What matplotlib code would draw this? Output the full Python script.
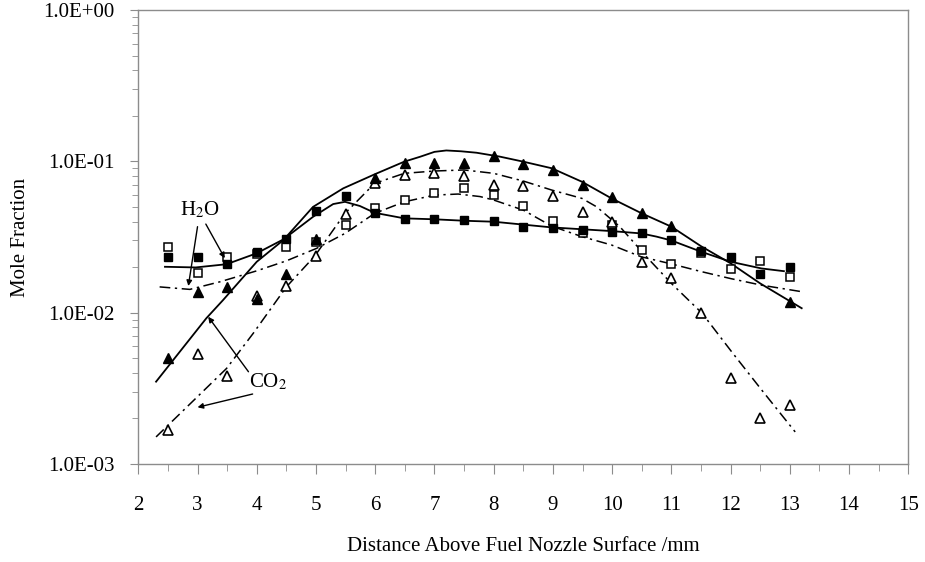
import numpy as np
import matplotlib
matplotlib.use("Agg")
import matplotlib.pyplot as plt
from matplotlib.ticker import FixedLocator, FuncFormatter, LogLocator, NullFormatter

plt.rcParams['font.family'] = ['Liberation Serif', 'DejaVu Serif']
plt.rcParams['mathtext.fontset'] = 'stix'

# measured points (mm above nozzle)
x_pts = [2.5, 3, 3.5, 4, 4.5, 5, 5.5, 6, 6.5, 7, 7.5, 8, 8.5, 9, 9.5, 10, 10.5, 11, 11.5, 12, 12.5, 13]
h2o_filled = [0.0232, 0.0232, 0.0209, 0.0250, 0.0305, 0.0469, 0.059, 0.0453, 0.0414, 0.0414, 0.0409,
              0.0403, 0.037, 0.036, 0.0352, 0.034, 0.0334, 0.0302, 0.0255, 0.0232, 0.0181, 0.020]
h2o_open = [0.027, 0.0182, 0.0234, 0.0243, 0.027, 0.0292, 0.0379, 0.0489, 0.0555, 0.0614, 0.067,
            0.060, 0.0507, 0.0403, 0.0334, 0.0379, 0.026, 0.021, 0.0249, 0.0193, 0.0219, 0.0172]
co2_open = [0.00168, 0.00532, 0.0038, 0.0129, 0.015, 0.0237, 0.0446, 0.0715, 0.081, 0.084, 0.080,
            0.0697, 0.0687, 0.059, 0.046, 0.0399, 0.0215, 0.017, 0.0100, 0.00368, 0.0020, 0.00245]

x_co2_filled = [2.5, 3, 3.5, 4, 4.5, 5, 6, 6.5, 7, 7.5, 8, 8.5, 9, 9.5, 10, 10.5, 11, 13]
co2_filled = [0.00499, 0.01375, 0.0148, 0.01225, 0.018, 0.0305, 0.0772, 0.097, 0.097, 0.097, 0.1084,
              0.0955, 0.0877, 0.0697, 0.0578, 0.0453, 0.0373, 0.0118]

# model curves
x_h2o_solid = [2.45, 2.97, 3.49, 4.0, 4.45, 4.95, 5.29, 5.49, 5.74, 5.99, 6.49, 7.0, 7.5, 8.0,
               8.98, 9.99, 10.49, 10.75, 11.0, 11.5, 12.0, 12.52, 12.9]
h2o_solid = [0.0201, 0.0199, 0.0209, 0.0247, 0.0305, 0.043, 0.0522, 0.054, 0.0507, 0.0457, 0.042,
             0.0414, 0.0405, 0.0399, 0.0366, 0.0346, 0.0334, 0.0318, 0.030, 0.0253, 0.0217, 0.0196, 0.0188]

x_co2_solid = [2.3, 3.15, 3.43, 4.0, 4.45, 4.95, 5.46, 6.0, 6.49, 6.76, 7.0, 7.2, 7.45, 7.71, 8.1,
               8.5, 8.98, 9.49, 9.99, 10.5, 11.0, 11.5, 12.0, 12.5, 13.2]
co2_solid = [0.0035, 0.0092, 0.0121, 0.0217, 0.0302, 0.050, 0.0663, 0.0824, 0.0995, 0.1073, 0.1155,
             0.118, 0.1165, 0.114, 0.1075, 0.0995, 0.090, 0.0733, 0.0569, 0.0453, 0.037, 0.0275,
             0.0212, 0.0156, 0.0107]

x_h2o_dash = [2.36, 2.87, 3.38, 4.0, 4.5, 5.01, 5.49, 5.99, 6.49, 7.0, 7.4, 7.77, 8.0, 8.5, 8.98,
              9.49, 9.99, 10.49, 11.0, 11.5, 12.0, 12.52, 13.23]
h2o_dash = [0.0148, 0.01425, 0.016, 0.0189, 0.022, 0.0266, 0.0334, 0.0453, 0.054, 0.0598, 0.0608,
            0.0585, 0.0555, 0.0476, 0.0373, 0.0318, 0.028, 0.0234, 0.021, 0.0187, 0.0168, 0.0152, 0.0137]

x_co2_dash = [2.3, 3.49, 3.94, 4.5, 4.98, 5.49, 5.99, 6.49, 7.0, 7.5, 8.0, 8.5, 8.98, 9.49, 9.74,
              10.13, 10.58, 11.0, 11.52, 12.02, 12.52, 13.09]
co2_dash = [0.00151, 0.00428, 0.0073, 0.0148, 0.0237, 0.0453, 0.0715, 0.0833, 0.0863, 0.0877, 0.0833,
            0.0741, 0.0646, 0.0569, 0.050, 0.037, 0.0234, 0.0156, 0.0099, 0.0055, 0.0031, 0.00163]

fig = plt.figure(figsize=(9.25, 5.62), dpi=100)
ax = fig.add_axes([138.3 / 925, 1 - 464 / 562, (908.3 - 138.3) / 925, (464 - 10) / 562])

dashdot = (0, (7, 3, 1.5, 3))
ax.plot(x_h2o_solid, h2o_solid, color='black', lw=1.3)
ax.plot(x_co2_solid, co2_solid, color='black', lw=1.3)
ax.plot(x_h2o_dash, h2o_dash, color='black', lw=1.1, linestyle=dashdot)
ax.plot(x_co2_dash, co2_dash, color='black', lw=1.1, linestyle=dashdot)

ax.plot(x_pts, h2o_open, 's', ms=5.5, mfc='white', mec='black', mew=1.1, ls='none')
ax.plot(x_pts, co2_open, '^', ms=6.5, mfc='white', mec='black', mew=1.2, ls='none')
ax.plot(x_pts, h2o_filled, 's', ms=5.7, color='black', ls='none')
ax.plot(x_co2_filled, co2_filled, '^', ms=7, color='black', ls='none')

# labels with arrows
arrow = dict(arrowstyle='-|>', color='black', lw=1.0, mutation_scale=8, shrinkA=0, shrinkB=0)
ax.text(3.04, 0.0477, 'H$_2$O', fontsize=15, ha='center', va='center')
ax.annotate('', xy=(2.845, 0.0150), xytext=(3.0, 0.037), arrowprops=arrow)
ax.annotate('', xy=(3.46, 0.0229), xytext=(3.14, 0.0385), arrowprops=arrow)
ax.text(4.2, 0.00349, 'CO$_2$', fontsize=15, ha='center', va='center')
ax.annotate('', xy=(3.18, 0.0094), xytext=(3.86, 0.00407), arrowprops=arrow)
ax.annotate('', xy=(3.0, 0.00237), xytext=(3.93, 0.0029), arrowprops=arrow)

ax.set_yscale('log')
ax.set_xlim(2, 15)
ax.set_ylim(1e-3, 1)
ax.xaxis.set_major_locator(FixedLocator(np.arange(2, 16, 1)))
ax.xaxis.set_minor_locator(FixedLocator(np.arange(2.5, 15, 1)))
ax.yaxis.set_major_locator(FixedLocator([1e-3, 1e-2, 1e-1, 1]))
ax.yaxis.set_minor_locator(LogLocator(base=10, subs=np.arange(2, 10)))
ax.yaxis.set_major_formatter(FuncFormatter(lambda v, p: '%.1E' % v))
ax.yaxis.set_minor_formatter(NullFormatter())

for s in ax.spines.values():
    s.set_color('#8c8c8c')
    s.set_linewidth(1.0)
ax.tick_params(axis='both', which='both', direction='out', colors='#8c8c8c', labelcolor='black',
               labelsize=15)
ax.tick_params(axis='y', which='major', length=6, pad=11)
ax.tick_params(axis='y', which='minor', length=4)
ax.tick_params(axis='x', which='major', length=7, pad=16)
ax.tick_params(axis='x', which='minor', length=5)

ax.set_xlabel('Distance Above Fuel Nozzle Surface /mm', fontsize=15, labelpad=16)
ax.set_ylabel('Mole Fraction', fontsize=15, labelpad=10)

fig.savefig('out.png', dpi=100)
